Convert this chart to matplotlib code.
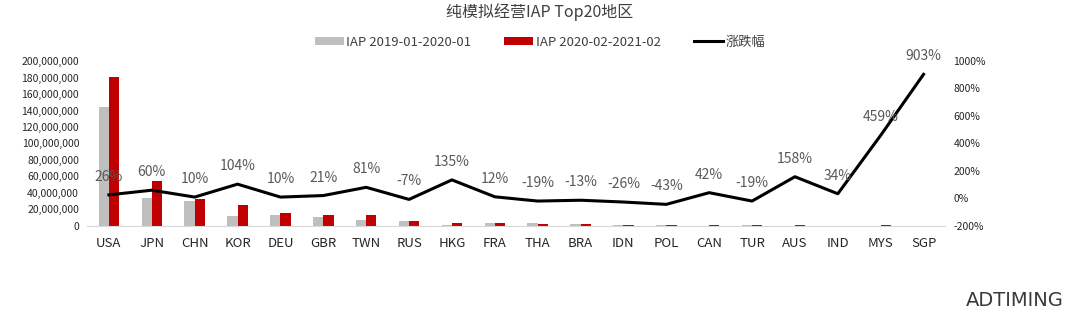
import numpy as np
import matplotlib.pyplot as plt
from matplotlib.ticker import FuncFormatter

plt.rcParams['font.family'] = ['Noto Sans CJK SC', 'DejaVu Sans']

# data
regions = ['USA', 'JPN', 'CHN', 'KOR', 'DEU', 'GBR', 'TWN', 'RUS', 'HKG', 'FRA',
           'THA', 'BRA', 'IDN', 'POL', 'CAN', 'TUR', 'AUS', 'IND', 'MYS', 'SGP']
iap_2019 = [144e6, 34e6, 30e6, 12e6, 13.5e6, 11e6, 7e6, 6e6, 1.5e6, 3.3e6,
            3.5e6, 2.5e6, 1.0e6, 1.0e6, 0.5e6, 0.7e6, 0.3e6, 0.3e6, 0.2e6, 0.1e6]
iap_2020 = [180e6, 55e6, 33e6, 25e6, 15.4e6, 13.7e6, 13.3e6, 5.7e6, 3.5e6, 3.5e6,
            2.5e6, 2.5e6, 1.0e6, 0.8e6, 0.7e6, 0.6e6, 0.6e6, 0.4e6, 0.6e6, 0.5e6]
change_pct = [26, 60, 10, 104, 10, 21, 81, -7, 135, 12,
              -19, -13, -26, -43, 42, -19, 158, 34, 459, 903]

BAR_W = 0.24
x = np.arange(len(regions))

fig = plt.figure(figsize=(10.8, 3.16), dpi=100)
ax = fig.add_axes([0.081, 0.285, 0.794, 0.522])

b1 = ax.bar(x - BAR_W/2, iap_2019, BAR_W, color='#bfbfbf', label='IAP 2019-01-2020-01', zorder=2)
b2 = ax.bar(x + BAR_W/2, iap_2020, BAR_W, color='#c00000', label='IAP 2020-02-2021-02', zorder=2)
ax.set_ylim(0, 200e6)
ax.set_xlim(-0.5, len(regions) - 0.5)
ax.set_yticks(np.arange(0, 200e6 + 1, 20e6))
ax.yaxis.set_major_formatter(FuncFormatter(lambda v, p: f'{v:,.0f}'))
ax.set_xticks(x)
ax.set_xticklabels(regions)
ax.tick_params(axis='y', length=0, labelsize=7.5, colors='#262626', pad=6)
ax.tick_params(axis='x', length=0, labelsize=9.5, colors='#262626', pad=8)
for s in ['top', 'right', 'left']:
    ax.spines[s].set_visible(False)
ax.spines['bottom'].set_color('#d9d9d9')

ax2 = ax.twinx()
ln, = ax2.plot(x, change_pct, color='black', lw=2.2, label='涨跌幅', zorder=3)
ax2.set_ylim(-200, 1000)
ax2.set_yticks(np.arange(-200, 1001, 200))
ax2.yaxis.set_major_formatter(FuncFormatter(lambda v, p: f'{v:.0f}%'))
ax2.tick_params(axis='y', length=0, labelsize=7.5, colors='#262626', pad=6)
for s in ['top', 'right', 'left', 'bottom']:
    ax2.spines[s].set_visible(False)

for xi, v in zip(x, change_pct):
    ax2.annotate(f'{v}%', (xi, v), xytext=(0, 13), textcoords='offset points',
                 ha='center', va='center', fontsize=10, color='#595959')

fig.text(0.5, 0.962, '纯模拟经营IAP Top20地区', ha='center', va='center',
         fontsize=11.5, color='#404040')
fig.legend(handles=[b1, b2, ln], loc='center', bbox_to_anchor=(0.5, 0.867), ncol=3,
           frameon=False, fontsize=9.5, handlelength=2.2, handleheight=0.5,
           columnspacing=2.5, handletextpad=0.2, labelcolor='#404040')

# logo text, bottom right
fig.text(0.985, 0.05, 'ADTIMING', ha='right', va='center', fontsize=14,
         color='#3a3a3a', family='DejaVu Sans')

fig.savefig('out.png', dpi=100)
